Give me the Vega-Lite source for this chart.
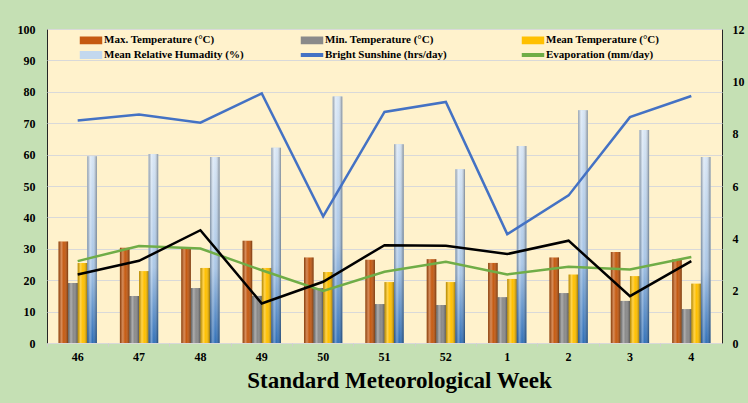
{
  "$schema": "https://vega.github.io/schema/vega-lite/v6.json",
  "width": 675,
  "height": 314,
  "autosize": {"type": "none"},
  "padding": {"left": 47, "top": 29, "right": 26, "bottom": 60},
  "background": "#C5E0B4",
  "config": {
    "view": {"fill": "#FFF2CC", "stroke": "#262626", "strokeWidth": 1},
    "font": "Liberation Serif"
  },
  "data": {
    "values": [
      {"week": "46", "series": "Max. Temperature (°C)", "value": 32.3},
      {"week": "46", "series": "Min. Temperature (°C)", "value": 19.1},
      {"week": "46", "series": "Mean Temperature (°C)", "value": 25.5},
      {"week": "46", "series": "Mean Relative Humadity (%)", "value": 59.5},
      {"week": "46", "series": "Bright Sunshine (hrs/day)", "value": 8.5},
      {"week": "46", "series": "Evaporation (mm/day)", "value": 3.13},
      {"week": "46", "series": "Black line", "value": 2.62},
      {"week": "47", "series": "Max. Temperature (°C)", "value": 30.3},
      {"week": "47", "series": "Min. Temperature (°C)", "value": 15.0},
      {"week": "47", "series": "Mean Temperature (°C)", "value": 22.9},
      {"week": "47", "series": "Mean Relative Humadity (%)", "value": 60.2},
      {"week": "47", "series": "Bright Sunshine (hrs/day)", "value": 8.73},
      {"week": "47", "series": "Evaporation (mm/day)", "value": 3.71},
      {"week": "47", "series": "Black line", "value": 3.14},
      {"week": "48", "series": "Max. Temperature (°C)", "value": 29.9},
      {"week": "48", "series": "Min. Temperature (°C)", "value": 17.5},
      {"week": "48", "series": "Mean Temperature (°C)", "value": 23.9},
      {"week": "48", "series": "Mean Relative Humadity (%)", "value": 59.2},
      {"week": "48", "series": "Bright Sunshine (hrs/day)", "value": 8.42},
      {"week": "48", "series": "Evaporation (mm/day)", "value": 3.61},
      {"week": "48", "series": "Black line", "value": 4.31},
      {"week": "49", "series": "Max. Temperature (°C)", "value": 32.6},
      {"week": "49", "series": "Min. Temperature (°C)", "value": 15.0},
      {"week": "49", "series": "Mean Temperature (°C)", "value": 23.9},
      {"week": "49", "series": "Mean Relative Humadity (%)", "value": 62.2},
      {"week": "49", "series": "Bright Sunshine (hrs/day)", "value": 9.54},
      {"week": "49", "series": "Evaporation (mm/day)", "value": 2.78},
      {"week": "49", "series": "Black line", "value": 1.51},
      {"week": "50", "series": "Max. Temperature (°C)", "value": 27.2},
      {"week": "50", "series": "Min. Temperature (°C)", "value": 17.5},
      {"week": "50", "series": "Mean Temperature (°C)", "value": 22.6},
      {"week": "50", "series": "Mean Relative Humadity (%)", "value": 78.5},
      {"week": "50", "series": "Bright Sunshine (hrs/day)", "value": 4.84},
      {"week": "50", "series": "Evaporation (mm/day)", "value": 1.99},
      {"week": "50", "series": "Black line", "value": 2.34},
      {"week": "51", "series": "Max. Temperature (°C)", "value": 26.5},
      {"week": "51", "series": "Min. Temperature (°C)", "value": 12.4},
      {"week": "51", "series": "Mean Temperature (°C)", "value": 19.4},
      {"week": "51", "series": "Mean Relative Humadity (%)", "value": 63.3},
      {"week": "51", "series": "Bright Sunshine (hrs/day)", "value": 8.83},
      {"week": "51", "series": "Evaporation (mm/day)", "value": 2.72},
      {"week": "51", "series": "Black line", "value": 3.74},
      {"week": "52", "series": "Max. Temperature (°C)", "value": 26.7},
      {"week": "52", "series": "Min. Temperature (°C)", "value": 12.1},
      {"week": "52", "series": "Mean Temperature (°C)", "value": 19.4},
      {"week": "52", "series": "Mean Relative Humadity (%)", "value": 55.3},
      {"week": "52", "series": "Bright Sunshine (hrs/day)", "value": 9.21},
      {"week": "52", "series": "Evaporation (mm/day)", "value": 3.1},
      {"week": "52", "series": "Black line", "value": 3.72},
      {"week": "1", "series": "Max. Temperature (°C)", "value": 25.5},
      {"week": "1", "series": "Min. Temperature (°C)", "value": 14.6},
      {"week": "1", "series": "Mean Temperature (°C)", "value": 20.4},
      {"week": "1", "series": "Mean Relative Humadity (%)", "value": 62.7},
      {"week": "1", "series": "Bright Sunshine (hrs/day)", "value": 4.16},
      {"week": "1", "series": "Evaporation (mm/day)", "value": 2.62},
      {"week": "1", "series": "Black line", "value": 3.4},
      {"week": "2", "series": "Max. Temperature (°C)", "value": 27.2},
      {"week": "2", "series": "Min. Temperature (°C)", "value": 15.9},
      {"week": "2", "series": "Mean Temperature (°C)", "value": 21.8},
      {"week": "2", "series": "Mean Relative Humadity (%)", "value": 74.1},
      {"week": "2", "series": "Bright Sunshine (hrs/day)", "value": 5.64},
      {"week": "2", "series": "Evaporation (mm/day)", "value": 2.91},
      {"week": "2", "series": "Black line", "value": 3.91},
      {"week": "3", "series": "Max. Temperature (°C)", "value": 29.0},
      {"week": "3", "series": "Min. Temperature (°C)", "value": 13.4},
      {"week": "3", "series": "Mean Temperature (°C)", "value": 21.3},
      {"week": "3", "series": "Mean Relative Humadity (%)", "value": 67.8},
      {"week": "3", "series": "Bright Sunshine (hrs/day)", "value": 8.63},
      {"week": "3", "series": "Evaporation (mm/day)", "value": 2.81},
      {"week": "3", "series": "Black line", "value": 1.79},
      {"week": "4", "series": "Max. Temperature (°C)", "value": 26.6},
      {"week": "4", "series": "Min. Temperature (°C)", "value": 10.8},
      {"week": "4", "series": "Mean Temperature (°C)", "value": 18.9},
      {"week": "4", "series": "Mean Relative Humadity (%)", "value": 59.2},
      {"week": "4", "series": "Bright Sunshine (hrs/day)", "value": 9.44},
      {"week": "4", "series": "Evaporation (mm/day)", "value": 3.29},
      {"week": "4", "series": "Black line", "value": 3.13}
    ]
  },
  "layer": [
    {
      "transform": [{"filter": {"field": "series", "oneOf": ["Max. Temperature (°C)", "Min. Temperature (°C)", "Mean Temperature (°C)", "Mean Relative Humadity (%)"]}}],
      "encoding": {
        "x": {
          "field": "week", "type": "nominal", "sort": null,
          "title": "Standard Meteorological Week",
          "scale": {"domain": ["46", "47", "48", "49", "50", "51", "52", "1", "2", "3", "4"], "paddingInner": 0.376, "paddingOuter": 0.188},
          "axis": {
            "labelAngle": 0, "domain": false, "ticks": true, "tickColor": "#CFCFCF", "tickSize": 3,
            "bandPosition": -0.301, "labelOffset": 0, "labelPadding": 5,
            "labelFont": "Liberation Serif", "labelFontSize": 12, "labelFontWeight": "bold", "labelColor": "#000",
            "titleFont": "Liberation Serif", "titleFontSize": 23, "titleFontWeight": "bold", "titleColor": "#000",
            "titleX": 352, "titleY": 44, "titleBaseline": "alphabetic", "titleAlign": "center", "titleAnchor": null
          }
        },
        "xOffset": {"field": "series", "type": "nominal", "scale": {"domain": ["Max. Temperature (°C)", "Min. Temperature (°C)", "Mean Temperature (°C)", "Mean Relative Humadity (%)"], "paddingInner": 0, "paddingOuter": 0}},
        "y": {
          "field": "value", "type": "quantitative",
          "scale": {"domain": [0, 100], "nice": false},
          "axis": {
            "title": null, "values": [0, 10, 20, 30, 40, 50, 60, 70, 80, 90, 100],
            "grid": true, "gridColor": "#D9D9D9", "domain": false, "ticks": false, "labelPadding": 12,
            "labelFont": "Liberation Serif", "labelFontSize": 12, "labelFontWeight": "bold", "labelColor": "#000"
          }
        }
      },
      "layer": [
        {
          "mark": {"type": "bar"},
          "encoding": {
            "color": {
              "field": "series", "type": "nominal",
              "scale": {
                "domain": ["Max. Temperature (°C)", "Min. Temperature (°C)", "Mean Temperature (°C)", "Mean Relative Humadity (%)", "Bright Sunshine (hrs/day)", "Evaporation (mm/day)"],
                "range": ["#C55A11", "#8A8A8A", "#FFC000", "#C3D8EE", "#4472C4", "#70AD47"]
              },
              "legend": {
                "title": null, "orient": "none", "legendX": 38, "legendY": 5, "direction": "horizontal", "columns": 3,
                "gridAlign": "all", "columnPadding": 54, "rowPadding": 1, "padding": 0,
                "labelFont": "Liberation Serif", "labelFontSize": 11, "labelFontWeight": "bold", "labelColor": "#000",
                "labelOffset": 7, "symbolSize": 110, "labelLimit": 300,
                "encode": {
                  "symbols": {
                    "update": {
                      "shape": {"signal": "datum.value === 'Bright Sunshine (hrs/day)' || datum.value === 'Evaporation (mm/day)' ? 'M-2,-0.22H2V0.22H-2Z' : 'M-2,-0.6H2V0.6H-2Z'"},
                      "fill": {"scale": "color", "field": "value"},
                      "stroke": {"value": "transparent"},
                      "opacity": {"value": 1},
                      "fillOpacity": {"value": 1}
                    }
                  }
                }
              }
            }
          }
        },
        {
          "transform": [{"filter": {"field": "series", "equal": "Mean Relative Humadity (%)"}}],
          "mark": {
            "type": "bar",
            "color": {"gradient": "linear", "x1": 0, "y1": 0, "x2": 0, "y2": 1,
              "stops": [{"offset": 0, "color": "#D8E6F5"}, {"offset": 0.6, "color": "#A9C6E6"}, {"offset": 1, "color": "#2F6FB8"}]}
          }
        },
        {
          "mark": {
            "type": "bar",
            "color": {"gradient": "linear", "x1": 0, "y1": 0, "x2": 1, "y2": 0,
              "stops": [{"offset": 0, "color": "rgba(0,0,0,0.30)"}, {"offset": 0.3, "color": "rgba(255,255,255,0.30)"}, {"offset": 0.55, "color": "rgba(255,255,255,0.0)"}, {"offset": 1, "color": "rgba(0,0,0,0.40)"}]}
          }
        }
      ]
    },
    {
      "encoding": {
        "x": {"field": "week", "type": "nominal", "sort": null},
        "y": {
          "field": "value", "type": "quantitative",
          "scale": {"domain": [0, 12], "nice": false},
          "axis": {
            "orient": "right", "title": null, "values": [0, 2, 4, 6, 8, 10, 12],
            "grid": false, "domain": false, "ticks": false, "labelPadding": 10,
            "labelFont": "Liberation Serif", "labelFontSize": 12, "labelFontWeight": "bold", "labelColor": "#000"
          }
        }
      },
      "layer": [
        {
          "transform": [{"filter": {"field": "series", "oneOf": ["Bright Sunshine (hrs/day)", "Evaporation (mm/day)"]}}],
          "mark": {"type": "line", "strokeWidth": 2.5},
          "encoding": {
            "color": {"field": "series", "type": "nominal"}
          }
        },
        {
          "transform": [{"filter": {"field": "series", "equal": "Black line"}}],
          "mark": {"type": "line", "strokeWidth": 2.5, "color": "#000"}
        }
      ]
    }
  ],
  "resolve": {"scale": {"y": "independent"}}
}
